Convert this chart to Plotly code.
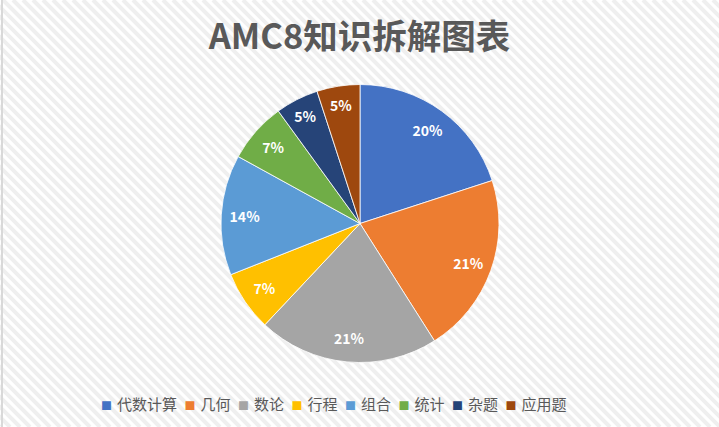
import plotly.graph_objects as go

categories = ["代数计算", "几何", "数论", "行程", "组合", "统计", "杂题", "应用题"]
percents = [20, 21, 21, 7, 14, 7, 5, 5]
colors = ["#4472C4", "#ED7D31", "#A5A5A5", "#FFC000", "#5B9BD5", "#70AD47", "#264478", "#9E480E"]
title_text = "AMC8知识拆解图表"

W, H = 719, 427
FONT = "Microsoft YaHei, Noto Sans CJK SC, Noto Sans, sans-serif"
CX, CY, R = 360, 223.5, 139
dom = dict(x=[(CX - R) / W, (CX + R) / W], y=[(H - CY - R) / H, (H - CY + R) / H])

fig = go.Figure()
# the pie itself
fig.add_trace(go.Pie(
    labels=categories, values=percents, sort=False, direction="clockwise", rotation=0,
    marker=dict(colors=colors, line=dict(color="white", width=0.8)),
    textinfo="none", hoverinfo="label+percent", showlegend=False, domain=dom,
))
# transparent ring on top that only carries the labels, placed further out like Excel's best fit
fig.add_trace(go.Pie(
    labels=categories, values=percents, sort=False, direction="clockwise", rotation=0,
    hole=0.66,
    marker=dict(colors=["rgba(0,0,0,0)"] * len(categories), line=dict(width=0)),
    texttemplate="%{value}%",
    textposition="inside",
    insidetextorientation="horizontal",
    textfont=dict(family=FONT, size=14, color="white", weight="bold"),
    hoverinfo="skip", showlegend=False, domain=dom,
))

# diagonal stripe background
shapes = []
step = 10
x = -H
while x < W + step:
    shapes.append(dict(type="line", xref="paper", yref="paper",
                       x0=x / W, y0=1, x1=(x + H) / W, y1=0,
                       line=dict(color="#efefef", width=4), layer="below"))
    x += step
shapes.append(dict(type="line", xref="paper", yref="paper", x0=2 / W, x1=2 / W, y0=0, y1=1,
                   line=dict(color="#d9d9d9", width=2), layer="below"))

# legend row built from the category / colour lists
legend_text = "\u2002".join(
    f"<span style='color:{c};font-size:11px'>■</span>\u2004{name}" for name, c in zip(categories, colors)
)

fig.update_layout(
    width=W, height=H,
    margin=dict(l=0, r=0, t=0, b=0),
    paper_bgcolor="white",
    plot_bgcolor="white",
    shapes=shapes,
    showlegend=False,
    title=dict(text=title_text, x=0.5, xanchor="center", y=1 - 37 / H, yanchor="middle",
               xref="paper", yref="paper",
               font=dict(family=FONT, size=34.5, color="#595959", weight="bold")),
    annotations=[dict(text=legend_text, x=334 / W, xanchor="center", y=1 - 403 / H, yanchor="middle",
                      xref="paper", yref="paper", showarrow=False,
                      font=dict(family=FONT, size=15, color="#595959"))],
)

fig.write_html("out.html", config={"displayModeBar": False},
               post_script="document.body.style.margin='0';")
